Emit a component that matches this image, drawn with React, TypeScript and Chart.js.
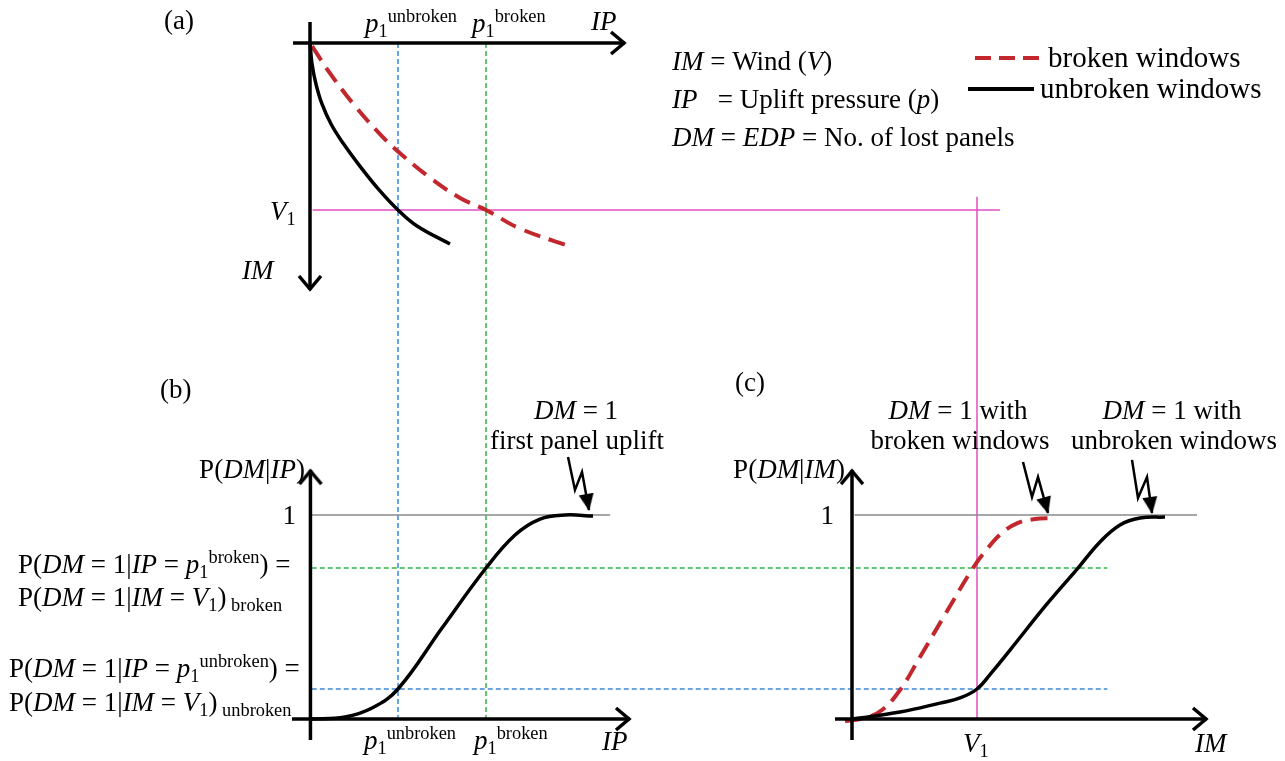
import React, { useEffect, useRef } from 'react';
import { Chart, registerables } from 'chart.js';

Chart.register(...registerables);

// ---------- data (panel units) ----------
// Reference levels
const p1Unbroken = 1; // IP units
const p1Broken = 2;
const V1 = 1; // IM units
const probUnbroken = 0.147; // P(DM=1 | V1) unbroken
const probBroken = 0.74; // P(DM=1 | V1) broken

// Panel (a): IP (x) vs IM (y, downward)
const aUnbrokenIP = [0, 0.023, 0.068, 0.136, 0.239, 0.375, 0.591, 0.795, 1.0, 1.216, 1.591];
const aUnbrokenIM = [0, 0.126, 0.246, 0.365, 0.485, 0.599, 0.754, 0.886, 1.0, 1.096, 1.204];
const aBrokenIP = [0.023, 0.227, 0.511, 0.795, 1.0, 1.364, 1.705, 2.0, 2.386, 2.977];
const aBrokenIM = [0.019, 0.181, 0.377, 0.545, 0.649, 0.807, 0.928, 1.0, 1.111, 1.222];

// Panel (b): P(DM|IP)
const bIP = [0, 0.398, 0.705, 1.0, 1.5, 2.0, 2.33, 2.614, 2.898, 3.216];
const bProb = [0, 0.01, 0.054, 0.147, 0.446, 0.74, 0.902, 0.98, 1.0, 0.995];

// Panel (c): P(DM|IM)
const cBrokenIM = [-0.056, 0.104, 0.24, 0.384, 0.544, 0.728, 0.968, 1.08, 1.2, 1.328, 1.464, 1.608];
const cBrokenProb = [-0.01, 0.005, 0.044, 0.142, 0.304, 0.495, 0.74, 0.833, 0.912, 0.961, 0.98, 0.985];
const cUnbrokenIM = [0, 0.384, 0.704, 0.864, 1.0, 1.12, 1.264, 1.56, 1.808, 1.984, 2.144, 2.304, 2.504];
const cUnbrokenProb = [0, 0.034, 0.078, 0.103, 0.147, 0.23, 0.338, 0.564, 0.74, 0.868, 0.951, 0.985, 0.99];

// Pointer ("lightning") arrows
const arrowB_IP = [2.932, 3.011, 3.091, 3.17];
const arrowB_P = [1.284, 1.123, 1.211, 1.025];
const arrowCb_IM = [1.368, 1.44, 1.488, 1.568];
const arrowCb_P = [1.26, 1.088, 1.186, 1.01];
const arrowCu_IM = [2.24, 2.288, 2.36, 2.4];
const arrowCu_P = [1.27, 1.083, 1.186, 1.01];

// ---------- styling ----------
const W = 1285;
const H = 761;
const BLACK = '#000000';
const RED = '#c1272d';
const BLUE = '#3a86d8';
const GREEN = '#33b54a';
const MAGENTA = '#e04fc2';
const GRAY = '#8a8a8a';
const SERIF = '"Liberation Serif", "Times New Roman", serif';
const FS = 27;
const FS_LEGEND = 29;

type Seg = { t: string; i?: boolean; s?: 'sup' | 'sub' };
const R = (t: string): Seg => ({ t });
const I = (t: string): Seg => ({ t, i: true });
const SUP = (t: string): Seg => ({ t, s: 'sup' });
const SUB = (t: string): Seg => ({ t, s: 'sub' });

function font(size: number, italic?: boolean) {
  return `${italic ? 'italic ' : ''}${size}px ${SERIF}`;
}

function rich(
  ctx: CanvasRenderingContext2D,
  segs: Seg[],
  x: number,
  y: number,
  align: 'left' | 'center' | 'right' = 'left',
  size = FS
) {
  const small = size * 0.68;
  let total = 0;
  const widths = segs.map((sg) => {
    ctx.font = font(sg.s ? small : size, sg.i);
    const w = ctx.measureText(sg.t).width;
    total += w;
    return w;
  });
  let cx = align === 'left' ? x : align === 'center' ? x - total / 2 : x - total;
  ctx.textBaseline = 'alphabetic';
  ctx.textAlign = 'left';
  ctx.fillStyle = '#000';
  segs.forEach((sg, k) => {
    ctx.font = font(sg.s ? small : size, sg.i);
    const dy = sg.s === 'sup' ? -size * 0.36 : sg.s === 'sub' ? size * 0.2 : 0;
    ctx.fillText(sg.t, cx, y + dy);
    cx += widths[k];
  });
}

const pts = (xs: number[], ys: number[]) => xs.map((x, i) => ({ x, y: ys[i] }));

function makeChevron() {
  const c = document.createElement('canvas');
  c.width = 44;
  c.height = 44;
  const g = c.getContext('2d')!;
  g.strokeStyle = BLACK;
  g.lineWidth = 3.5;
  g.lineCap = 'butt';
  g.lineJoin = 'miter';
  g.beginPath();
  g.moveTo(22 - 14, 22 - 11);
  g.lineTo(21, 22);
  g.lineTo(22 - 14, 22 + 11);
  g.stroke();
  return c;
}

function makeHead() {
  const c = document.createElement('canvas');
  c.width = 44;
  c.height = 44;
  const g = c.getContext('2d')!;
  g.fillStyle = BLACK;
  g.beginPath();
  g.moveTo(23, 22);
  g.lineTo(22 - 16, 22 - 7.5);
  g.lineTo(22 - 16, 22 + 7.5);
  g.closePath();
  g.fill();
  return c;
}

const textPlugin = {
  id: 'schematicText',
  afterDatasetsDraw(chart: any) {
    const ctx: CanvasRenderingContext2D = chart.ctx;
    const xIP = chart.scales.xIP;
    const xIM = chart.scales.xIM;
    const yP = chart.scales.yP;
    const yIM = chart.scales.yIM;
    ctx.save();

    // ---- panel (a)
    rich(ctx, [R('(a)')], 164, 29);
    rich(ctx, [I('p'), SUB('1'), SUP('unbroken')], xIP.getPixelForValue(p1Unbroken) - 33, 32);
    rich(ctx, [I('p'), SUB('1'), SUP('broken')], xIP.getPixelForValue(p1Broken) - 14, 32);
    rich(ctx, [I('IP')], 591, 30);
    rich(ctx, [I('V'), SUB('1')], 270, yIM.getPixelForValue(V1) + 10);
    rich(ctx, [I('IM')], 242, 279);

    // definitions
    rich(ctx, [I('IM'), R(' = Wind ('), I('V'), R(')')], 672, 70);
    rich(ctx, [I('IP'), R('   = Uplift pressure ('), I('p'), R(')')], 672, 108);
    rich(ctx, [I('DM'), R(' = '), I('EDP'), R(' = No. of lost panels')], 672, 146);

    // legend
    ctx.lineCap = 'butt';
    ctx.strokeStyle = RED;
    ctx.lineWidth = 4;
    ctx.setLineDash([16, 8]);
    ctx.beginPath();
    ctx.moveTo(975, 58);
    ctx.lineTo(1040, 58);
    ctx.stroke();
    ctx.setLineDash([]);
    ctx.strokeStyle = BLACK;
    ctx.beginPath();
    ctx.moveTo(968, 89);
    ctx.lineTo(1034, 89);
    ctx.stroke();
    rich(ctx, [R('broken windows')], 1048, 67, 'left', FS_LEGEND);
    rich(ctx, [R('unbroken windows')], 1040, 98, 'left', FS_LEGEND);

    // ---- panel (b)
    rich(ctx, [R('(b)')], 160, 398);
    rich(ctx, [I('DM'), R(' = 1')], 576, 419, 'center');
    rich(ctx, [R('first panel uplift')], 577, 449, 'center');
    rich(ctx, [R('P('), I('DM'), R('|'), I('IP'), R(')')], 305, 478, 'right');
    rich(ctx, [R('1')], 296, yP.getPixelForValue(1) + 9, 'right');
    rich(ctx, [R('P('), I('DM'), R(' = 1|'), I('IP'), R(' = '), I('p'), SUB('1'), SUP('broken'), R(') =')], 18, 573);
    rich(ctx, [R('P('), I('DM'), R(' = 1|'), I('IM'), R(' = '), I('V'), SUB('1'), R(')'), SUB(' broken')], 18, 606);
    rich(ctx, [R('P('), I('DM'), R(' = 1|'), I('IP'), R(' = '), I('p'), SUB('1'), SUP('unbroken'), R(') =')], 9, 677);
    rich(ctx, [R('P('), I('DM'), R(' = 1|'), I('IM'), R(' = '), I('V'), SUB('1'), R(')'), SUB(' unbroken')], 9, 711);
    rich(ctx, [I('p'), SUB('1'), SUP('unbroken')], xIP.getPixelForValue(p1Unbroken) - 34, 749);
    rich(ctx, [I('p'), SUB('1'), SUP('broken')], xIP.getPixelForValue(p1Broken) - 12, 749);
    rich(ctx, [I('IP')], 602, 750);

    // ---- panel (c)
    rich(ctx, [R('(c)')], 735, 391);
    rich(ctx, [I('DM'), R(' = 1 with')], 958, 419, 'center');
    rich(ctx, [R('broken windows')], 960, 449, 'center');
    rich(ctx, [I('DM'), R(' = 1 with')], 1172, 419, 'center');
    rich(ctx, [R('unbroken windows')], 1174, 449, 'center');
    rich(ctx, [R('P('), I('DM'), R('|'), I('IM'), R(')')], 845, 478, 'right');
    rich(ctx, [R('1')], 834, yP.getPixelForValue(1) + 9, 'right');
    rich(ctx, [I('V'), SUB('1')], xIM.getPixelForValue(V1) - 14, 752);
    rich(ctx, [I('IM')], 1195, 752);

    ctx.restore();
  },
};

export default function App() {
  const ref = useRef<HTMLCanvasElement | null>(null);

  useEffect(() => {
    if (!ref.current) return;
    const chevron = makeChevron();
    const head = makeHead();

    const base = (data: any[], xAxisID: string, yAxisID: string, color: string, width: number, extra: any = {}) => ({
      data,
      xAxisID,
      yAxisID,
      borderColor: color,
      backgroundColor: color,
      borderWidth: width,
      showLine: true,
      pointRadius: 0,
      pointBorderWidth: 0,
      fill: false,
      tension: 0,
      clip: false,
      ...extra,
    });
    const axis = (data: any[], xAxisID: string, yAxisID: string, rot: number) =>
      base(data, xAxisID, yAxisID, BLACK, 3.5, {
        pointStyle: ['circle', chevron],
        pointRadius: [0, 6],
        rotation: [0, rot],
        borderCapStyle: 'butt',
      });
    const pointer = (xs: number[], ys: number[], xAxisID: string, rot: number) =>
      base(pts(xs, ys), xAxisID, 'yP', BLACK, 2.5, {
        pointStyle: xs.map((_, i) => (i === xs.length - 1 ? head : 'circle')),
        pointRadius: xs.map((_, i) => (i === xs.length - 1 ? 6 : 0)),
        rotation: xs.map((_, i) => (i === xs.length - 1 ? rot : 0)),
        borderJoinStyle: 'miter',
      });
    const curve = (xs: number[], ys: number[], xAxisID: string, yAxisID: string, color: string, dashed: boolean) =>
      base(pts(xs, ys), xAxisID, yAxisID, color, dashed ? 4 : 3.5, {
        tension: 0.4,
        borderDash: dashed ? [17, 9] : [],
        borderCapStyle: 'butt',
        borderJoinStyle: 'round',
      });
    const guide = (data: any[], xAxisID: string, yAxisID: string, color: string, dashed: boolean) =>
      base(data, xAxisID, yAxisID, color, 1.5, { borderDash: dashed ? [5, 3] : [] });

    const datasets: any[] = [
      // axes (top)
      axis([{ x: -0.193, y: 0 }, { x: 3.58, y: 0 }], 'xIP', 'yIM', 0),
      axis([{ x: 0, y: -0.126 }, { x: 0, y: 1.479 }], 'xIP', 'yIM', 90),
      axis([{ x: -0.205, y: 0 }, { x: 3.636, y: 0 }], 'xIP', 'yP', 0),
      axis([{ x: 0.005, y: -0.103 }, { x: 0.005, y: 1.22 }], 'xIP', 'yP', -90),
      axis([{ x: -0.136, y: 0 }, { x: 2.84, y: 0 }], 'xIM', 'yP', 0),
      axis([{ x: 0, y: -0.103 }, { x: 0, y: 1.22 }], 'xIM', 'yP', -90),
      // curves
      curve(aUnbrokenIP, aUnbrokenIM, 'xIP', 'yIM', BLACK, false),
      curve(aBrokenIP, aBrokenIM, 'xIP', 'yIM', RED, true),
      curve(bIP, bProb, 'xIP', 'yP', BLACK, false),
      curve(cUnbrokenIM, cUnbrokenProb, 'xIM', 'yP', BLACK, false),
      curve(cBrokenIM, cBrokenProb, 'xIM', 'yP', RED, true),
      // pointer arrows
      pointer(arrowB_IP, arrowB_P, 'xIP', 80),
      pointer(arrowCb_IM, arrowCb_P, 'xIM', 74),
      pointer(arrowCu_IM, arrowCu_P, 'xIM', 82),
      // guides
      guide([{ x: 0.02, y: 1 }, { x: 3.41, y: 1 }], 'xIP', 'yP', GRAY, false),
      guide([{ x: 0.02, y: 1 }, { x: 2.76, y: 1 }], 'xIM', 'yP', GRAY, false),
      guide([{ x: 0.03, y: V1 }, { x: 7.84, y: V1 }], 'xIP', 'yIM', MAGENTA, false),
      guide([{ x: V1, y: 2.56 }, { x: V1, y: 0 }], 'xIM', 'yP', MAGENTA, false),
      guide([{ x: p1Unbroken, y: 3.314 }, { x: p1Unbroken, y: 0 }], 'xIP', 'yP', BLUE, true),
      guide([{ x: p1Broken, y: 3.314 }, { x: p1Broken, y: 0 }], 'xIP', 'yP', GREEN, true),
      guide([{ x: 0.02, y: probUnbroken }, { x: 9.06, y: probUnbroken }], 'xIP', 'yP', BLUE, true),
      guide([{ x: 0.02, y: probBroken }, { x: 9.06, y: probBroken }], 'xIP', 'yP', GREEN, true),
    ];

    const chart = new Chart(ref.current, {
      type: 'scatter',
      data: { datasets },
      options: {
        animation: false,
        responsive: true,
        maintainAspectRatio: false,
        devicePixelRatio: 1,
        events: [],
        layout: { padding: 0, autoPadding: false },
        plugins: { legend: { display: false }, tooltip: { enabled: false }, title: { display: false } },
        scales: {
          xIP: { type: 'linear', axis: 'x', display: false, min: -310 / 88, max: (W - 310) / 88 },
          xIM: { type: 'linear', axis: 'x', display: false, min: -852 / 125, max: (W - 852) / 125 },
          yIM: { type: 'linear', axis: 'y', display: false, reverse: true, min: -43 / 167, max: (H - 43) / 167 },
          yP: { type: 'linear', axis: 'y', display: false, min: -(H - 719) / 204, max: 719 / 204 },
        },
      } as any,
      plugins: [textPlugin],
    });
    return () => chart.destroy();
  }, []);

  return (
    <div style={{ position: 'absolute', left: 0, top: 0, width: W, height: H, background: '#fff' }}>
      <canvas ref={ref} />
    </div>
  );
}
